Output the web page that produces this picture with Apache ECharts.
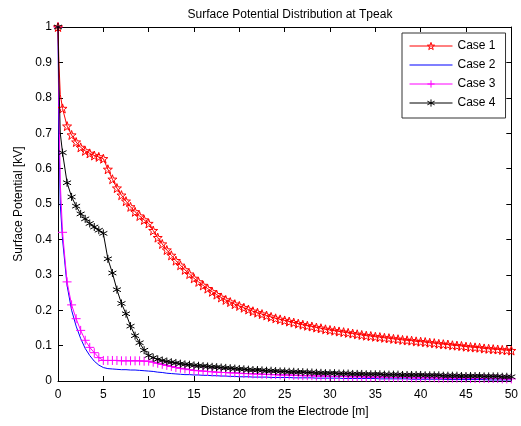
<!DOCTYPE html>
<html>
<head>
<meta charset="utf-8">
<script src="https://cdn.jsdelivr.net/npm/echarts@6/dist/echarts.min.js"></script>
<style>html,body{margin:0;padding:0;background:#fff;}#c{width:521px;height:426px;}</style>
</head>
<body>
<div id="c"></div>
<script>
var titleText = 'Surface Potential Distribution at Tpeak';
var xName = 'Distance from the Electrode [m]';
var yName = 'Surface Potential [kV]';
var seriesNames = ['Case 1', 'Case 2', 'Case 3', 'Case 4'];

var xs = [0,0.1,0.25,
0.5,1,1.5,2,2.5,3,3.5,4,4.5,5,
5.5,6,6.5,7,7.5,8,8.5,9,9.5,10,
10.5,11,11.5,12,12.5,13,13.5,14,14.5,15,
15.5,16,16.5,17,17.5,18,18.5,19,19.5,20,
20.5,21,21.5,22,22.5,23,23.5,24,24.5,25,
25.5,26,26.5,27,27.5,28,28.5,29,29.5,30,
30.5,31,31.5,32,32.5,33,33.5,34,34.5,35,
35.5,36,36.5,37,37.5,38,38.5,39,39.5,40,
40.5,41,41.5,42,42.5,43,43.5,44,44.5,45,
45.5,46,46.5,47,47.5,48,48.5,49,49.5,50];

var case1 = [1.0,0.90,0.81,
0.77,0.72,0.695,0.675,0.66,0.65,0.643,0.637,0.633,0.628,
0.598,0.57,0.545,0.525,0.508,0.492,0.478,0.466,0.455,0.445,
0.425,0.405,0.387,0.37,0.355,0.34,0.327,0.314,0.302,0.29,
0.28,0.27,0.261,0.252,0.244,0.236,0.229,0.223,0.217,0.212,
0.207,0.202,0.197,0.193,0.189,0.185,0.181,0.177,0.174,0.171,
0.168,0.165,0.162,0.159,0.156,0.154,0.151,0.149,0.146,0.144,
0.142,0.140,0.138,0.136,0.134,0.132,0.130,0.128,0.127,0.125,
0.124,0.122,0.121,0.119,0.118,0.116,0.115,0.114,0.112,0.111,
0.110,0.108,0.107,0.105,0.104,0.103,0.101,0.100,0.099,0.097,
0.096,0.095,0.094,0.092,0.091,0.090,0.089,0.088,0.087,0.086];

var case2 = [1.0,0.70,0.50,
0.40,0.27,0.20,0.155,0.12,0.092,0.072,0.056,0.045,0.038,
0.035,0.034,0.033,0.032,0.032,0.031,0.031,0.030,0.029,0.028,
0.027,0.025,0.024,0.022,0.021,0.020,0.019,0.018,0.018,0.017,
0.017,0.016,0.016,0.015,0.015,0.014,0.014,0.013,0.013,0.012,
0.012,0.012,0.011,0.011,0.011,0.011,0.010,0.010,0.010,0.010,
0.010,0.009,0.009,0.009,0.009,0.009,0.008,0.008,0.008,0.008,
0.008,0.008,0.007,0.007,0.007,0.007,0.007,0.007,0.007,0.007,
0.006,0.006,0.006,0.006,0.006,0.006,0.006,0.005,0.005,0.005,
0.005,0.005,0.005,0.005,0.005,0.004,0.004,0.004,0.004,0.004,
0.004,0.004,0.004,0.004,0.003,0.003,0.003,0.003,0.003,0.003];

var case3 = [1.0,0.78,0.56,
0.42,0.28,0.215,0.176,0.143,0.115,0.095,0.080,0.066,0.058,
0.058,0.058,0.058,0.057,0.057,0.057,0.057,0.057,0.056,0.056,
0.053,0.050,0.047,0.044,0.041,0.038,0.036,0.034,0.032,0.030,
0.029,0.028,0.027,0.026,0.025,0.024,0.024,0.023,0.023,0.022,
0.021,0.021,0.020,0.020,0.019,0.019,0.018,0.018,0.017,0.017,
0.017,0.016,0.016,0.015,0.015,0.015,0.014,0.014,0.014,0.013,
0.013,0.013,0.013,0.012,0.012,0.012,0.012,0.011,0.011,0.011,
0.011,0.011,0.010,0.010,0.010,0.010,0.010,0.009,0.009,0.009,
0.009,0.009,0.009,0.008,0.008,0.008,0.008,0.008,0.008,0.008,
0.007,0.007,0.007,0.007,0.007,0.007,0.007,0.006,0.006,0.006];

var case4 = [1.0,0.85,0.70,
0.645,0.56,0.52,0.494,0.472,0.458,0.445,0.435,0.426,0.417,
0.345,0.305,0.258,0.219,0.19,0.155,0.128,0.108,0.087,0.072,
0.066,0.061,0.058,0.055,0.053,0.051,0.049,0.047,0.046,0.044,
0.043,0.042,0.041,0.040,0.039,0.038,0.037,0.036,0.035,0.034,
0.033,0.032,0.031,0.031,0.030,0.029,0.029,0.028,0.027,0.027,
0.026,0.026,0.025,0.025,0.024,0.024,0.023,0.023,0.022,0.022,
0.022,0.021,0.021,0.021,0.020,0.020,0.020,0.019,0.019,0.019,
0.019,0.018,0.018,0.018,0.018,0.017,0.017,0.017,0.017,0.017,
0.016,0.016,0.016,0.016,0.015,0.015,0.015,0.015,0.014,0.014,
0.014,0.014,0.014,0.013,0.013,0.013,0.013,0.012,0.012,0.012];

// points on the initial steep drop are drawn without markers
function pairs(arr) {
  return xs.map(function (x, i) {
    if (i === 1 || i === 2) return {value: [x, arr[i]], symbol: 'none'};
    return [x, arr[i]];
  });
}

var STAR = 'path://M0,-10L2.35,-3.24L9.51,-3.09L3.8,1.24L5.88,8.09L0,4L-5.88,8.09L-3.8,1.24L-9.51,-3.09L-2.35,-3.24Z';
var PLUS = 'path://M0,-10L0,10M-10,0L10,0';
var ASTER = 'path://M0,-10L0,10M-8.66,-5L8.66,5M-8.66,5L8.66,-5';
var LINEICON = 'path://M0,0L43,0L43,1L0,1Z';

var colors = ['#ff0000', '#0000ff', '#ff00ff', '#000000'];
var font = 'Liberation Sans, Arial, sans-serif';
var chart = echarts.init(document.getElementById('c'), null, {renderer: 'canvas'});

function axisCommon(extra) {
  var base = {
    axisLine: {show: true, onZero: false, lineStyle: {color: '#000', width: 1}},
    axisTick: {show: true, inside: true, length: 5, lineStyle: {color: '#000', width: 1}},
    splitLine: {show: false},
    axisLabel: {color: '#000', fontSize: 12, fontFamily: font}
  };
  for (var k in extra) base[k] = extra[k];
  return base;
}

var hollow = function (c) { return {color: 'rgba(0,0,0,0)', borderColor: c, borderWidth: 1}; };

chart.setOption({
  animation: false,
  backgroundColor: '#fff',
  title: {
    text: titleText, left: 285, top: 4, textAlign: 'center',
    textStyle: {fontSize: 12, fontWeight: 'normal', color: '#000', fontFamily: font}
  },
  legend: {
    left: 402, top: 33, orient: 'vertical',
    itemWidth: 43, itemHeight: 9, itemGap: 7,
    padding: [7, 10, 9, 7],
    borderColor: '#333', borderWidth: 1, backgroundColor: '#fff',
    textStyle: {fontSize: 12, color: '#000', fontFamily: font},
    data: [
      {name: seriesNames[0], itemStyle: hollow(colors[0]), lineStyle: {color: colors[0], width: 1}},
      {name: seriesNames[1], icon: LINEICON, itemStyle: {color: colors[1], borderWidth: 0}},
      {name: seriesNames[2], itemStyle: hollow(colors[2]), lineStyle: {color: colors[2], width: 1}},
      {name: seriesNames[3], itemStyle: hollow(colors[3]), lineStyle: {color: colors[3], width: 1}}
    ]
  },
  grid: {left: 58, right: 9, top: 27, bottom: 45},
  xAxis: [
    axisCommon({type: 'value', min: 0, max: 50, interval: 5, position: 'bottom',
      name: xName, nameLocation: 'middle', nameGap: 22,
      nameTextStyle: {fontSize: 12, color: '#000', fontFamily: font}}),
    axisCommon({type: 'value', min: 0, max: 50, interval: 5, position: 'top',
      axisLabel: {show: false}})
  ],
  yAxis: [
    axisCommon({type: 'value', min: 0, max: 1, interval: 0.1, position: 'left',
      name: yName, nameLocation: 'middle', nameGap: 32,
      nameTextStyle: {fontSize: 12, color: '#000', fontFamily: font},
      axisLabel: {color: '#000', fontSize: 12, fontFamily: font, margin: 6,
        formatter: function (v) { return String(Math.round(v * 10) / 10); }}}),
    axisCommon({type: 'value', min: 0, max: 1, interval: 0.1, position: 'right',
      axisLabel: {show: false}})
  ],
  series: [
    {name: seriesNames[0], type: 'line', data: pairs(case1), symbol: STAR, symbolSize: 9,
      lineStyle: {color: colors[0], width: 1}, itemStyle: hollow(colors[0]), z: 4},
    {name: seriesNames[1], type: 'line', data: pairs(case2), symbol: 'none', showSymbol: false,
      lineStyle: {color: colors[1], width: 1}, itemStyle: {color: colors[1]}, z: 2},
    {name: seriesNames[2], type: 'line', data: pairs(case3), symbol: PLUS, symbolSize: 9,
      lineStyle: {color: colors[2], width: 1}, itemStyle: hollow(colors[2]), z: 3},
    {name: seriesNames[3], type: 'line', data: pairs(case4), symbol: ASTER, symbolSize: 8,
      lineStyle: {color: colors[3], width: 1}, itemStyle: hollow(colors[3]), z: 5}
  ]
});
</script>
</body>
</html>
